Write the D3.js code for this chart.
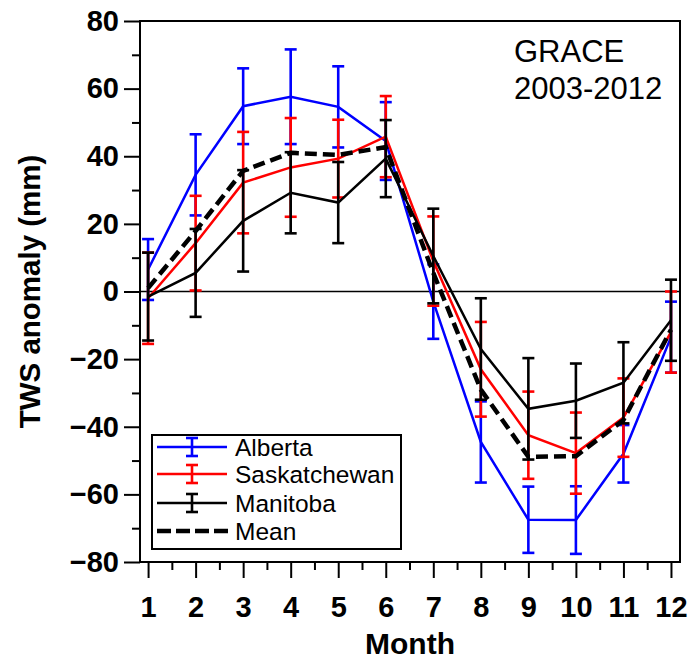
<!DOCTYPE html>
<html>
<head>
<meta charset="utf-8">
<script src="https://cdn.jsdelivr.net/npm/d3@7"></script>
<style>
  body { margin: 0; background: #fff; }
  svg { font-family: "Liberation Sans", Arial, sans-serif; }
</style>
</head>
<body>
<svg id="chart" width="691" height="662"></svg>
<script>
// values
const months = [1, 2, 3, 4, 5, 6, 7, 8, 9, 10, 11, 12];
const alberta = [6.5, 34.5, 54.8, 57.6, 54.6, 44.5, -3, -44.5, -67.5, -67.6, -48, -13.5];
const albertaErr = [9, 12, 11.2, 14, 12, 11.5, 11, 12, 9.8, 10, 8.5, 10.5];
const sask = [-2, 14.3, 32.2, 36.7, 39.3, 45.8, 9, -23, -42.5, -47.8, -37.3, -12];
const saskErr = [13.5, 14, 15, 14.6, 11.5, 12, 13.2, 14, 12.9, 12, 11.6, 12];
const manitoba = [-1.5, 5.5, 20.9, 29.2, 26.3, 39.3, 10.5, -17, -34.7, -32.3, -27, -8.5];
const manitobaErr = [13, 13, 15, 12, 12, 11.4, 14, 15, 15, 11, 12, 12];
const meanTws = [1, 17.9, 35.7, 41, 40.4, 42.7, 5.5, -29, -48.9, -48.7, -38, -11.3];
const yTicks = [-80, -60, -40, -20, 0, 20, 40, 60, 80];
const seriesNames = ["Alberta", "Saskatchewan", "Manitoba", "Mean"];

const svg = d3.select("#chart");
const plot = { left: 140, right: 680, top: 21, bottom: 562 };

const x = d3.scaleLinear().domain([0.83, 12.19]).range([plot.left, plot.right]);
const y = d3.scaleLinear().domain([-80, 80]).range([plot.bottom, plot.top]);

// minor ticks
svg.append("g")
    .attr("transform", `translate(${plot.left},0)`)
    .call(d3.axisLeft(y).tickValues(d3.range(-70, 80, 20)).tickSize(8).tickFormat(""))
    .call(g => g.select(".domain").remove())
    .selectAll("line").attr("stroke-width", 2);
svg.append("g")
    .attr("transform", `translate(0,${plot.bottom})`)
    .call(d3.axisBottom(x).tickValues(d3.range(1.5, 12, 1)).tickSize(8).tickFormat(""))
    .call(g => g.select(".domain").remove())
    .selectAll("line").attr("stroke-width", 2);

// major ticks + labels
const yAxis = svg.append("g")
    .attr("transform", `translate(${plot.left},0)`)
    .call(d3.axisLeft(y).tickValues(yTicks).tickSize(16).tickPadding(5))
    .call(g => g.select(".domain").remove());
yAxis.selectAll("line").attr("stroke-width", 2);
yAxis.selectAll("text")
    .attr("font-size", 29).attr("font-weight", "bold")
    .attr("font-family", "Liberation Sans, Arial, sans-serif")
    .attr("fill", "#000");

const xAxis = svg.append("g")
    .attr("transform", `translate(0,${plot.bottom})`)
    .call(d3.axisBottom(x).tickValues(months).tickSize(16).tickPadding(18))
    .call(g => g.select(".domain").remove());
xAxis.selectAll("line").attr("stroke-width", 2);
xAxis.selectAll("text")
    .attr("font-size", 29).attr("font-weight", "bold")
    .attr("font-family", "Liberation Sans, Arial, sans-serif")
    .attr("fill", "#000");

// frame and zero line
svg.append("rect")
    .attr("x", plot.left).attr("y", plot.top)
    .attr("width", plot.right - plot.left).attr("height", plot.bottom - plot.top)
    .attr("fill", "none").attr("stroke", "#000").attr("stroke-width", 2);
svg.append("line")
    .attr("x1", plot.left).attr("x2", plot.right)
    .attr("y1", y(0)).attr("y2", y(0))
    .attr("stroke", "#000").attr("stroke-width", 1.6);

// axis titles
svg.append("text")
    .attr("transform", `translate(40,${y(0)}) rotate(-90)`)
    .attr("text-anchor", "middle")
    .attr("font-size", 29.5).attr("font-weight", "bold")
    .text("TWS anomaly (mm)");
svg.append("text")
    .attr("x", (plot.left + plot.right) / 2).attr("y", 654)
    .attr("text-anchor", "middle")
    .attr("font-size", 30).attr("font-weight", "bold")
    .text("Month");

svg.append("text").attr("x", 514).attr("y", 62).attr("font-size", 31).text("GRACE");
svg.append("text").attr("x", 514).attr("y", 99).attr("font-size", 31).text("2003-2012");

const line = d3.line().x((d, i) => x(months[i])).y(d => y(d));
const capW = 6;

function drawSeries(vals, errs, color) {
    const g = svg.append("g");
    g.append("path")
        .attr("d", line(vals))
        .attr("fill", "none").attr("stroke", color).attr("stroke-width", 2.5);
    const bars = g.selectAll(".eb").data(vals).join("g");
    bars.append("line")
        .attr("x1", (d, i) => x(months[i])).attr("x2", (d, i) => x(months[i]))
        .attr("y1", (d, i) => y(d + errs[i])).attr("y2", (d, i) => y(d - errs[i]))
        .attr("stroke", color).attr("stroke-width", 2.6);
    [1, -1].forEach(s => {
        bars.append("line")
            .attr("x1", (d, i) => x(months[i]) - capW).attr("x2", (d, i) => x(months[i]) + capW)
            .attr("y1", (d, i) => y(d + s * errs[i])).attr("y2", (d, i) => y(d + s * errs[i]))
            .attr("stroke", color).attr("stroke-width", 2.6);
    });
}

drawSeries(alberta, albertaErr, "#0000ff");
drawSeries(sask, saskErr, "#ff0000");
drawSeries(manitoba, manitobaErr, "#000000");

svg.append("path")
    .attr("d", line(meanTws))
    .attr("fill", "none").attr("stroke", "#000")
    .attr("stroke-width", 4.5).attr("stroke-dasharray", "12,6");

// legend
const legend = svg.append("g");
legend.append("rect")
    .attr("x", 152).attr("y", 435).attr("width", 249).attr("height", 114)
    .attr("fill", "#fff").attr("stroke", "#000").attr("stroke-width", 2);
const legColors = ["#0000ff", "#ff0000", "#000000", "#000000"];
const legY = [447, 474, 503, 531];
seriesNames.forEach((name, i) => {
    const ly = legY[i];
    if (i < 3) {
        legend.append("line").attr("x1", 157).attr("x2", 227).attr("y1", ly).attr("y2", ly)
            .attr("stroke", legColors[i]).attr("stroke-width", 2.5);
        legend.append("line").attr("x1", 192).attr("x2", 192).attr("y1", ly - 9).attr("y2", ly + 9)
            .attr("stroke", legColors[i]).attr("stroke-width", 2.6);
        [-9, 9].forEach(o => legend.append("line")
            .attr("x1", 192 - capW).attr("x2", 192 + capW)
            .attr("y1", ly + o).attr("y2", ly + o)
            .attr("stroke", legColors[i]).attr("stroke-width", 2.6));
    } else {
        legend.append("line").attr("x1", 157).attr("x2", 229).attr("y1", ly).attr("y2", ly)
            .attr("stroke", "#000").attr("stroke-width", 4.5).attr("stroke-dasharray", "14,5");
    }
    legend.append("text")
        .attr("x", 235).attr("y", ly + 9)
        .attr("font-size", 24.5)
        .text(name);
});
</script>
</body>
</html>
